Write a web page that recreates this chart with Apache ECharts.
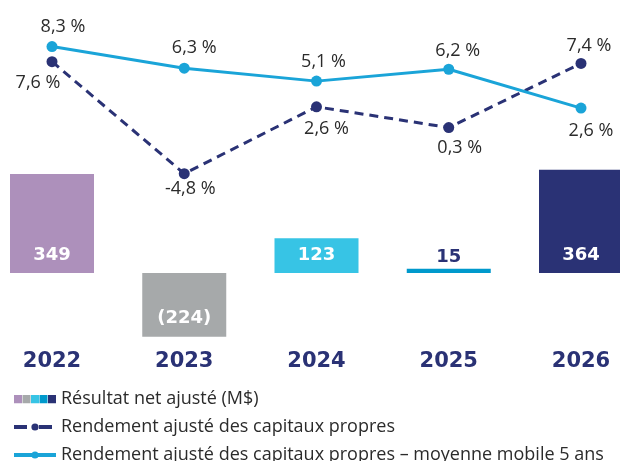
<!DOCTYPE html>
<html>
<head>
<meta charset="utf-8">
<script src="https://cdn.jsdelivr.net/npm/echarts@6/dist/echarts.min.js"></script>
<style>
  html, body { margin: 0; padding: 0; background: #fff; }
  #chart { width: 620px; height: 461px; }
</style>
</head>
<body>
<div id="chart"></div>
<script>
// data
const years = ['2022', '2023', '2024', '2025', '2026'];
const netIncome = [349, -224, 123, 15, 364];           // Résultat net ajusté (M$)
const roe = [7.6, -4.8, 2.6, 0.3, 7.4];                // Rendement ajusté des capitaux propres
const roeAvg5 = [8.3, 6.3, 5.1, 6.2, 2.6];             // moyenne mobile 5 ans

const names = [
    'Résultat net ajusté (M$)',
    'Rendement ajusté des capitaux propres',
    'Rendement ajusté des capitaux propres – moyenne mobile 5 ans'
];

// colours
const barColors = ['#ad90bb', '#a6a9aa', '#37c4e5', '#0099cc', '#2a3275'];
const navy = '#2a3275';
const cyan = '#1aa4d8';
const textColor = '#2b2b2b';

// label offsets (px from the dot centre)
const roeOffsets = [[-14, 21], [6, 15], [10, 22], [11, 20], [8, -18]];
const avgOffsets = [[11, -20], [10, -20], [7, -19], [9, -18], [10, 23]];

const pct = v => v.toFixed(1).replace('.', ',') + ' %';
const money = v => (v < 0 ? '(' + (-v) + ')' : String(v));

// legend icon for the bars: one small square per colour
const svg = '<svg xmlns="http://www.w3.org/2000/svg" width="42" height="9">' +
    barColors.map((c, i) => `<rect x="${i * 8.5}" y="0" width="8" height="9" fill="${c}"/>`).join('') +
    '</svg>';
const barIcon = 'image://data:image/svg+xml;charset=utf-8,' + encodeURIComponent(svg);

const chart = echarts.init(document.getElementById('chart'));

const option = {
    animation: false,
    grid: { left: 52, right: 39, top: 20, bottom: 118 },
    xAxis: {
        type: 'category',
        data: years,
        boundaryGap: false,
        axisLine: { show: false },
        axisTick: { show: false },
        axisLabel: {
            interval: 0,
            margin: 8,
            color: navy,
            fontFamily: 'DejaVu Sans',
            fontWeight: 'bold',
            fontSize: 21
        }
    },
    yAxis: [
        { type: 'value', show: false, min: -246, max: 891, splitLine: { show: false } },
        { type: 'value', show: false, min: -19.15, max: 10.76, splitLine: { show: false } },
        { type: 'value', show: false, min: -23.55, max: 12.21, splitLine: { show: false } }
    ],
    legend: {
        orient: 'vertical',
        left: 12,
        top: 390,
        height: 120,
        padding: 0,
        itemWidth: 42,
        itemHeight: 9,
        itemGap: 10,
        selectedMode: false,
        textStyle: { fontFamily: 'Open Sans', fontSize: 18, color: textColor },
        data: [
            { name: names[0], icon: barIcon },
            { name: names[1], lineStyle: { type: [13, 12], width: 4 } },
            { name: names[2], lineStyle: { width: 4 } }
        ]
    },
    series: [
        {
            name: names[0],
            type: 'bar',
            yAxisIndex: 0,
            barWidth: 84,
            clip: false,
            data: netIncome.map((v, i) => ({
                value: v,
                itemStyle: { color: barColors[i] },
                // bar too thin for the label: put it above, in navy
                label: Math.abs(v) < 50 ? { position: 'top', distance: 3, color: navy } : undefined
            })),
            label: {
                show: true,
                position: 'insideBottom',
                distance: 9,
                color: '#fff',
                fontFamily: 'DejaVu Sans',
                fontWeight: 'bold',
                fontSize: 18,
                formatter: p => money(p.value)
            }
        },
        {
            name: names[1],
            type: 'line',
            yAxisIndex: 2,
            clip: false,
            symbol: 'circle',
            symbolSize: 11,
            itemStyle: { color: navy },
            lineStyle: { color: navy, width: 3, type: [9, 6] },
            data: roe.map((v, i) => ({
                value: v,
                label: { offset: roeOffsets[i] }
            })),
            label: {
                show: true,
                position: 'inside',
                color: textColor,
                fontFamily: 'Open Sans',
                fontSize: 18,
                formatter: p => pct(p.value)
            },
            z: 3
        },
        {
            name: names[2],
            type: 'line',
            yAxisIndex: 1,
            clip: false,
            symbol: 'circle',
            symbolSize: 11,
            itemStyle: { color: cyan },
            lineStyle: { color: cyan, width: 3 },
            data: roeAvg5.map((v, i) => ({
                value: v,
                label: { offset: avgOffsets[i] }
            })),
            label: {
                show: true,
                position: 'inside',
                color: textColor,
                fontFamily: 'Open Sans',
                fontSize: 18,
                formatter: p => pct(p.value)
            },
            z: 4
        }
    ]
};

chart.setOption(option);
</script>
</body>
</html>
